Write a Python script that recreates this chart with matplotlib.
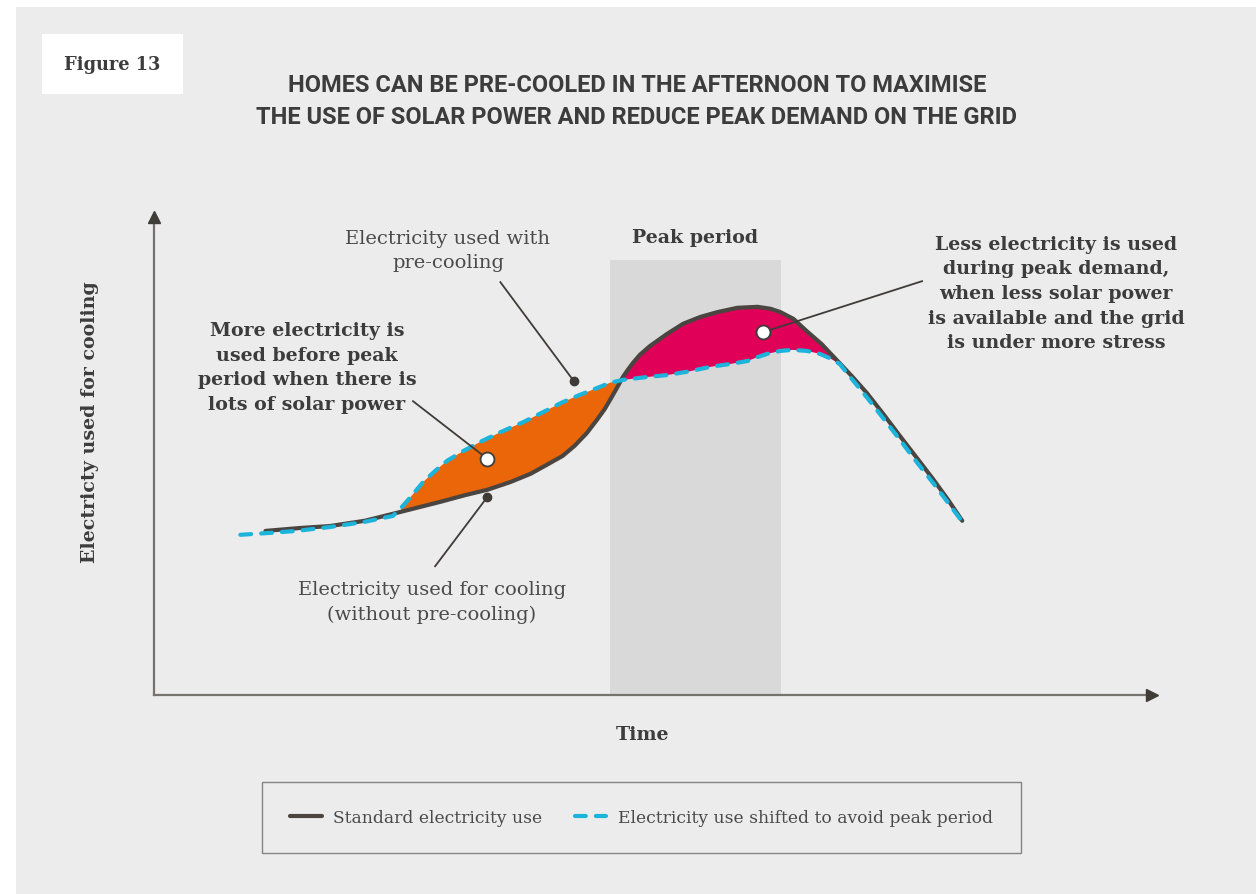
import numpy as np
import matplotlib
matplotlib.use("Agg")
import matplotlib.pyplot as plt
from matplotlib.patches import Rectangle

# time axis runs 0..100, electricity axis 0..100 (illustrative units)
standard_x = [11.1, 14.5, 17.5, 21.0, 24.5, 28.5, 31.0, 33.2, 35.5, 37.5, 38.9, 40.7, 41.9, 43.1,
              44.1, 44.9, 45.6, 46.2, 46.7, 47.2, 47.7, 48.4, 49.4, 51.1, 52.7, 54.4, 56.1,
              58.1, 60.1, 61.4, 62.4, 63.7, 65.0, 66.5, 68.0, 69.5, 71.0, 72.7, 74.3, 75.9,
              77.6, 79.1, 80.5]
standard_y = [33.9, 34.5, 34.9, 36.0, 37.8, 39.9, 41.3, 42.4, 44.0, 45.7, 47.3, 49.4, 51.5, 54.1,
              56.8, 59.1, 61.6, 63.8, 65.7, 67.2, 68.6, 70.3, 72.1, 74.6, 76.7, 78.1, 79.1,
              80.0, 80.2, 79.8, 79.1, 77.7, 75.2, 72.5, 69.2, 65.9, 62.4, 57.9, 53.5, 49.2,
              44.6, 40.3, 36.0]

shifted_x = [8.6, 11.6, 14.2, 17.5, 20.8, 23.8, 24.8, 25.8, 26.8, 28.0, 29.2, 30.8, 32.5, 34.5,
             36.8, 38.8, 40.7, 42.4, 44.1, 45.4, 46.7, 49.1, 51.1, 53.4, 55.4, 57.4, 59.1,
             60.1, 61.1, 62.4, 63.6, 65.0, 66.3, 67.3, 68.3, 69.5, 71.0, 72.7, 74.3, 75.9,
             77.6, 79.1, 80.5]
shifted_y = [33.1, 33.5, 33.9, 34.7, 35.7, 37.0, 39.1, 41.5, 44.0, 46.3, 48.4, 50.4, 52.3, 54.3,
             56.4, 58.5, 60.5, 62.0, 63.4, 64.5, 65.1, 65.7, 66.1, 66.9, 67.8, 68.4, 69.0,
             69.8, 70.5, 71.1, 71.3, 71.1, 70.5, 69.6, 68.4, 65.3, 61.5, 57.0, 52.7, 48.3,
             43.8, 39.7, 35.8]

peak_start, peak_end, peak_top = 45.4, 62.45, 89.9

# callout anchors (x, y)
pre_cool_dot = (41.8, 64.9)
no_pre_cool_dot = (33.2, 40.9)
more_circle = (33.2, 48.8)
less_circle = (60.7, 75.0)
pre_cool_line = (34.5, 85.3)
no_pre_cool_line = (28.0, 26.6)
more_line = (25.8, 60.7)
less_line = (76.5, 85.5)

DARK = "#4a4540"
CYAN = "#1db4dc"
ORANGE = "#ea6608"
MAGENTA = "#e10058"
TEXT = "#3c3c3c"
SERIF = "DejaVu Serif"
BOLD_SIZE = 13.7
REG_SIZE = 14

W, H = 1256, 895
fig = plt.figure(figsize=(W / 100, H / 100), dpi=100, facecolor="white")


def fx(px):
    return px / W


def fy(py):
    return 1 - py / H


# grey panel and "Figure 13" tag
fig.patches.append(Rectangle((fx(16), 0), 1, fy(8), transform=fig.transFigure,
                             facecolor="#ececec", edgecolor="none", zorder=-5))
fig.patches.append(Rectangle((fx(42), fy(95)), fx(141), 60 / H, transform=fig.transFigure,
                             facecolor="white", edgecolor="none", zorder=-4))
fig.text(fx(112), fy(65), "Figure 13", ha="center", va="center", fontsize=12.8,
         fontweight="bold", family=SERIF, color=TEXT)

fig.text(fx(637), fy(85), "HOMES CAN BE PRE-COOLED IN THE AFTERNOON TO MAXIMISE",
         ha="center", va="center", fontsize=17, fontweight="bold", family="Roboto", color=TEXT)
fig.text(fx(637), fy(118), "THE USE OF SOLAR POWER AND REDUCE PEAK DEMAND ON THE GRID",
         ha="center", va="center", fontsize=17, fontweight="bold", family="Roboto", color=TEXT)

ax = fig.add_axes([fx(154), fy(696), fx(1158) - fx(154), fy(212) - fy(696)])
ax.set_zorder(2)
ax.set_xlim(0, 100)
ax.set_ylim(0, 100)
ax.patch.set_alpha(0)
for s in ax.spines.values():
    s.set_visible(False)
ax.set_xticks([])
ax.set_yticks([])

# axes with arrows
ax.plot([0, 0], [0, 0.985], color="#75736d", lw=1.6, transform=ax.transAxes, clip_on=False)
ax.plot([0, 0.99], [0, 0], color="#75736d", lw=1.6, transform=ax.transAxes, clip_on=False)
ax.plot([0], [0.988], marker="^", ms=9, color="#3f3b37", transform=ax.transAxes, clip_on=False)
ax.plot([0.994], [0], marker=">", ms=9, color="#3f3b37", transform=ax.transAxes, clip_on=False)

# peak period band
ax.bar(peak_start, peak_top, width=peak_end - peak_start, align="edge",
       color="#d9d9d9", zorder=1)

sx, sy = np.array(standard_x), np.array(standard_y)
hx, hy = np.array(shifted_x), np.array(shifted_y)

# extra use before the peak (orange) and saving during the peak (magenta)
m1 = (hx >= 24.75) & (hx <= 46.75)
m2 = (sx >= 24.45) & (sx <= 46.75)
ax.fill(np.concatenate([hx[m1], sx[m2][::-1]]), np.concatenate([hy[m1], sy[m2][::-1]]),
        color=ORANGE, lw=0, zorder=2)
m3 = (sx >= 46.65) & (sx <= 68.05)
m4 = (hx >= 46.65) & (hx <= 68.35)
ax.fill(np.concatenate([sx[m3], hx[m4][::-1]]), np.concatenate([sy[m3], hy[m4][::-1]]),
        color=MAGENTA, lw=0, zorder=2)

l1, = ax.plot(sx, sy, color=DARK, lw=3, solid_capstyle="round", solid_joinstyle="round",
              zorder=3, label="Standard electricity use")
l2, = ax.plot(hx, hy, color=CYAN, lw=3, dashes=(2.6, 2.4), dash_capstyle="round", zorder=4,
              label="Electricity use shifted to avoid peak period")

# leader lines
for start, end in [(pre_cool_line, pre_cool_dot), (no_pre_cool_line, no_pre_cool_dot),
                   (more_line, more_circle), (less_line, less_circle)]:
    ax.plot([start[0], end[0]], [start[1], end[1]], color="#3f3b37", lw=1.3, zorder=5)
for p in [pre_cool_dot, no_pre_cool_dot]:
    ax.plot(p[0], p[1], "o", ms=6, color="#3f3b37", zorder=6)
for p in [more_circle, less_circle]:
    ax.plot(p[0], p[1], "o", ms=10, mfc="white", mec="#3f3b37", mew=1.3, zorder=6)

# texts
fig.text(fx(695), fy(238), "Peak period", ha="center", va="center", fontsize=BOLD_SIZE,
         fontweight="bold", family=SERIF, color=TEXT)
fig.text(fx(307), fy(368),
         "More electricity is\nused before peak\nperiod when there is\nlots of solar power",
         ha="center", va="center", multialignment="center", fontsize=BOLD_SIZE,
         fontweight="bold", family=SERIF, color=TEXT, linespacing=1.48)
fig.text(fx(1056), fy(294),
         "Less electricity is used\nduring peak demand,\nwhen less solar power\n"
         "is available and the grid\nis under more stress",
         ha="center", va="center", multialignment="center", fontsize=BOLD_SIZE,
         fontweight="bold", family=SERIF, color=TEXT, linespacing=1.48)
fig.text(fx(448), fy(251), "Electricity used with\npre-cooling", ha="center", va="center",
         multialignment="center", fontsize=REG_SIZE, family=SERIF, color="#4a4a4a",
         linespacing=1.43)
fig.text(fx(432), fy(602.5), "Electricity used for cooling\n(without pre-cooling)",
         ha="center", va="center", multialignment="center", fontsize=REG_SIZE, family=SERIF,
         color="#4a4a4a", linespacing=1.43)
fig.text(fx(643), fy(735), "Time", ha="center", va="center", fontsize=BOLD_SIZE,
         fontweight="bold", family=SERIF, color=TEXT)
fig.text(fx(90), fy(422), "Electricty used for cooling", ha="center", va="center",
         rotation=90, fontsize=BOLD_SIZE, fontweight="bold", family=SERIF, color=TEXT)

leg = fig.legend(handles=[l1, l2], loc="center", bbox_to_anchor=(fx(641.5), fy(818.5)),
                 ncol=2, frameon=True, fancybox=False, borderpad=1.6, handlelength=1.87,
                 handletextpad=0.7, columnspacing=1.87,
                 prop={"family": SERIF, "size": 12.3})
leg.get_frame().set_edgecolor("#6b6b6b")
leg.get_frame().set_facecolor("#ececec")
leg.get_frame().set_linewidth(1.0)
for t in leg.get_texts():
    t.set_color("#4a4a4a")

fig.savefig("out.png", dpi=100, facecolor="white")
